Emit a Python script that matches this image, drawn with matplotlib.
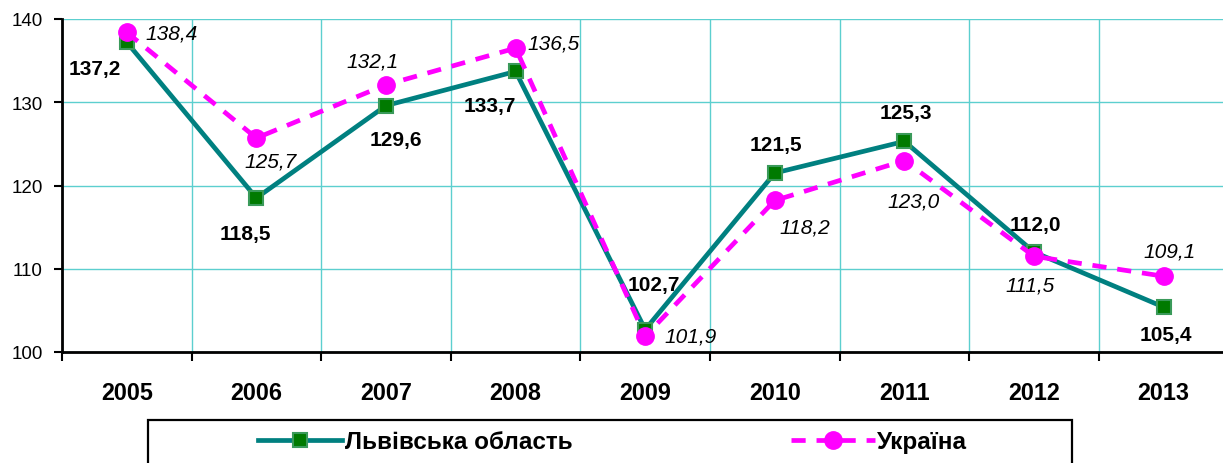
import numpy
from matplotlib import pyplot as plt
from matplotlib.patches import Rectangle

years = ["2005", "2006", "2007", "2008", "2009", "2010", "2011", "2012", "2013"]
lviv = [137.2, 118.5, 129.6, 133.7, 102.7, 121.5, 125.3, 112.0, 105.4]
ukraine = [138.4, 125.7, 132.1, 136.5, 101.9, 118.2, 123.0, 111.5, 109.1]
lviv_name = "Львівська область"
ukraine_name = "Україна"

# label offsets in pixels from the point (dx right, dy down) to the text centre
lviv_offsets = [(-32, 24), (-11, 34), (10, 32), (-26, 32), (9, -47), (1, -31), (1, -31), (1, -30), (2, 25)]
ukraine_offsets = [(45, -1), (14, 21), (-13, -26), (38, -7), (45, -2), (30, 25), (9, 38), (-4, 27), (6, -27)]

GRID = "#5CCFCF"
W, H = 1223, 464


def fmt(v):
    return ("%.1f" % v).replace(".", ",")


def add_labels(ax, x, values, offsets, **kw):
    for xi, v, (dx, dy) in zip(x, values, offsets):
        # cap height of the digits is about 15 px, so shift to baseline
        ax.annotate(fmt(v), (xi, v), xytext=(dx, -(dy + 7.5)), textcoords="offset pixels",
                    ha="center", va="baseline", fontsize=15, color="black", **kw)


def main():
    plt.rcParams["font.family"] = ["Liberation Sans", "DejaVu Sans"]
    fig = plt.figure(figsize=(W / 100, H / 100), dpi=100)
    ax = fig.add_axes([62 / W, (H - 353) / H, 9 * 129.6 / W, 333 / H])

    x = numpy.arange(len(years))
    ax.plot(x, lviv, color="#008080", lw=3.4, marker="s", ms=9.6, mfc="#007A00",
            mec="#3A9A5A", mew=1.5, label=lviv_name, zorder=3)
    ax.plot(x, ukraine, color="#FF00FF", lw=3.4, ls=(0, (3.0, 2.3)), marker="o", ms=12.5,
            mfc="#FF00FF", mec="#FF00FF", label=ukraine_name, zorder=4)

    add_labels(ax, x, lviv, lviv_offsets, fontweight="bold")
    add_labels(ax, x, ukraine, ukraine_offsets, fontstyle="italic")

    ax.set_xlim(-0.5, len(years) - 0.5)
    ax.set_ylim(100, 140)
    ax.set_yticks([100, 110, 120, 130, 140])
    ax.tick_params(axis="y", length=6, width=1.5, pad=8, labelsize=13.5)

    ax.set_xticks(numpy.arange(-0.5, len(years)), labels=[])
    ax.set_xticks(x, labels=years, minor=True)
    ax.tick_params(axis="x", which="major", length=6.5, width=1.5)
    ax.tick_params(axis="x", which="minor", length=0, pad=21, labelsize=16.8)
    for lab in ax.get_xticklabels(minor=True):
        lab.set_fontweight("bold")

    ax.grid(True, which="major", color=GRID, lw=1)
    ax.set_axisbelow(True)
    for s in ["top", "right"]:
        ax.spines[s].set_visible(False)
    ax.spines["left"].set_linewidth(2)
    ax.spines["bottom"].set_linewidth(2)

    box = Rectangle((148 / W, -0.2), (1072 - 148) / W, 0.2 + (H - 421) / H, transform=fig.transFigure,
                    fill=False, edgecolor="black", lw=1.6, clip_on=False)
    fig.patches.append(box)
    ax.legend(loc="center left", bbox_to_anchor=(258 / W, 1 - 443 / H), bbox_transform=fig.transFigure,
              ncol=2, frameon=False, borderaxespad=0, borderpad=0, handlelength=3.46,
              handletextpad=0.1, columnspacing=9.0, prop={"size": 17.5, "weight": "bold"})

    fig.savefig("out.png", dpi=100)


if __name__ == "__main__":
    main()
